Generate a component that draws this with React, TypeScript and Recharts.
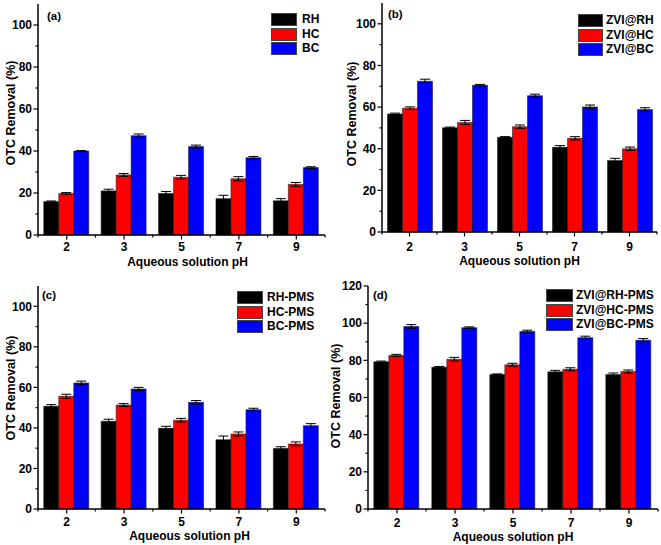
import React from 'react';
import { BarChart, Bar, XAxis, YAxis, ErrorBar, Legend } from 'recharts';

// ---------- data ----------
const categories = ['2', '3', '5', '7', '9'];

// (a)
const aNames = ['RH', 'HC', 'BC'];
const aRH = [15.9, 21.0, 19.8, 17.3, 16.3];
const aHC = [19.8, 28.6, 27.5, 26.8, 24.1];
const aBC = [40.0, 47.3, 42.1, 36.8, 32.1];
const aRHErr = [0.3, 0.8, 0.9, 1.6, 1.0];
const aHCErr = [0.4, 0.7, 0.9, 1.0, 0.9];
const aBCErr = [0.2, 0.8, 0.7, 0.6, 0.4];

// (b)
const bNames = ['ZVI@RH', 'ZVI@HC', 'ZVI@BC'];
const bRH = [56.7, 50.1, 45.5, 40.7, 34.4];
const bHC = [59.5, 52.6, 50.6, 45.0, 40.0];
const bBC = [72.4, 70.5, 65.5, 60.1, 58.9];
const bRHErr = [0.4, 0.3, 0.3, 0.8, 1.0];
const bHCErr = [0.6, 1.0, 0.8, 0.8, 0.8];
const bBCErr = [1.0, 0.4, 0.7, 0.9, 0.8];

// (c)
const cNames = ['RH-PMS', 'HC-PMS', 'BC-PMS'];
const cRH = [50.7, 43.3, 39.8, 34.2, 29.9];
const cHC = [55.6, 51.3, 43.8, 37.0, 32.1];
const cBC = [62.2, 59.2, 52.6, 49.0, 41.1];
const cRHErr = [0.8, 1.0, 1.0, 1.8, 0.8];
const cHCErr = [1.0, 0.7, 0.9, 1.0, 1.0];
const cBCErr = [0.9, 0.8, 0.9, 0.7, 1.0];

// (d)
const dNames = ['ZVI@RH-PMS', 'ZVI@HC-PMS', 'ZVI@BC-PMS'];
const dRH = [79.2, 76.3, 72.4, 73.8, 72.4];
const dHC = [82.6, 80.6, 77.6, 75.2, 74.0];
const dBC = [98.2, 97.6, 95.5, 92.2, 90.8];
const dRHErr = [0.4, 0.4, 0.3, 0.8, 0.8];
const dHCErr = [0.6, 1.0, 0.8, 0.8, 0.8];
const dBCErr = [1.0, 0.4, 0.7, 0.8, 0.9];

const yTicks110 = [0, 10, 20, 30, 40, 50, 60, 70, 80, 90, 100];
const yTicks120 = [0, 10, 20, 30, 40, 50, 60, 70, 80, 90, 100, 110, 120];

const colors = ['#000000', '#ff0000', '#0000ff'];
const FONT = '"Liberation Sans", Arial, Helvetica, sans-serif';

type PanelCfg = {
  left: number; top: number; width: number; height: number;
  pl: number; pr: number; pt: number; pb: number;
  yMax: number; yTicks: number[];
  names: string[]; values: number[][]; errors: number[][];
  tag: string; tagX: number; tagY: number;
  legX: number; legY: number; swW: number; txtGap: number;
  digitsY: number; titleY: number; titleDX: number;
  yLabX: number; yLabY: number;
};

const panels: PanelCfg[] = [
  {
    left: 0, top: 0, width: 330, height: 270, pl: 38, pr: 325, pt: 4, pb: 235,
    yMax: 110, yTicks: yTicks110, names: aNames, values: [aRH, aHC, aBC], errors: [aRHErr, aHCErr, aBCErr],
    tag: '(a)', tagX: 47, tagY: 16, legX: 271, legY: 12.5, swW: 26, txtGap: 5,
    digitsY: 247, titleY: 262, titleDX: 6, yLabX: 10, yLabY: 113,
  },
  {
    left: 330, top: 0, width: 331, height: 270, pl: 382, pr: 657, pt: 3, pb: 232,
    yMax: 110, yTicks: yTicks110, names: bNames, values: [bRH, bHC, bBC], errors: [bRHErr, bHCErr, bBCErr],
    tag: '(b)', tagX: 388, tagY: 14, legX: 578, legY: 13.5, swW: 25, txtGap: 3,
    digitsY: 247, titleY: 261, titleDX: 0, yLabX: 351, yLabY: 114,
  },
  {
    left: 0, top: 270, width: 330, height: 275, pl: 38, pr: 325, pt: 286, pb: 509,
    yMax: 110, yTicks: yTicks110, names: cNames, values: [cRH, cHC, cBC], errors: [cRHErr, cHCErr, cBCErr],
    tag: '(c)', tagX: 42, tagY: 295, legX: 237, legY: 290.5, swW: 26, txtGap: 4,
    digitsY: 522, titleY: 536, titleDX: 8, yLabX: 10, yLabY: 388,
  },
  {
    left: 330, top: 270, width: 331, height: 275, pl: 368, pr: 658, pt: 286, pb: 509,
    yMax: 120, yTicks: yTicks120, names: dNames, values: [dRH, dHC, dBC], errors: [dRHErr, dHCErr, dBCErr],
    tag: '(d)', tagX: 373, tagY: 295, legX: 546, legY: 288.5, swW: 27, txtGap: 3,
    digitsY: 523, titleY: 537, titleDX: 0, yLabX: 335, yLabY: 396,
  },
];

function Panel({ p }: { p: PanelCfg }) {
  const data = categories.map((ph, i) => ({
    ph,
    s0: p.values[0][i], s1: p.values[1][i], s2: p.values[2][i],
    e0: p.errors[0][i], e1: p.errors[1][i], e2: p.errors[2][i],
  }));
  // local (chart svg) coordinates
  const L = p.pl - p.left;
  const R = p.pr - p.left;
  const T = p.pt - p.top;
  const B = p.pb - p.top;
  const band = (R - L) / categories.length;

  const YTick = (props: any) => {
    const { y, payload } = props;
    const v = payload.value;
    const major = v % 20 === 0;
    return (
      <g>
        <line x1={L - (major ? 4.5 : 2.5)} x2={L} y1={y} y2={y} stroke="#000" strokeWidth={1.2} />
        {major && (
          <text x={L - 6} y={y} dy="0.36em" textAnchor="end" fontSize={12} fontWeight="bold" fill="#000" fontFamily={FONT}>
            {v}
          </text>
        )}
      </g>
    );
  };

  const XTick = (props: any) => {
    const { x, payload, index } = props;
    return (
      <g>
        <line x1={x} x2={x} y1={B} y2={B + 4.5} stroke="#000" strokeWidth={1.2} />
        <line x1={x - band / 2} x2={x - band / 2} y1={B} y2={B + 2.5} stroke="#000" strokeWidth={1.2} />
        {index === categories.length - 1 && (
          <line x1={x + band / 2} x2={x + band / 2} y1={B} y2={B + 2.5} stroke="#000" strokeWidth={1.2} />
        )}
        <text x={x} y={p.digitsY - p.top} dy="0.36em" textAnchor="middle" fontSize={12} fontWeight="bold" fill="#000" fontFamily={FONT}>
          {payload.value}
        </text>
      </g>
    );
  };

  const xTitle = () => (
    <text x={(L + R) / 2 + p.titleDX} y={p.titleY - p.top} dy="0.36em" textAnchor="middle" fontSize={12} fontWeight="bold" fill="#000" fontFamily={FONT}>
      Aqueous solution pH
    </text>
  );
  const yTitle = () => {
    const x = p.yLabX - p.left;
    const y = p.yLabY - p.top;
    return (
      <text x={x} y={y} dy="0.36em" textAnchor="middle" transform={`rotate(-90 ${x} ${y})`} fontSize={12.5} fontWeight="bold" fill="#000" fontFamily={FONT}>
        OTC Removal (%)
      </text>
    );
  };

  const legendContent = () => (
    <div style={{ fontFamily: FONT }}>
      {p.names.map((n, i) => (
        <div key={n} style={{ display: 'flex', alignItems: 'center', height: 14.5 }}>
          <div style={{ width: p.swW, height: 13, background: colors[i], border: '0.5px solid #444', boxSizing: 'border-box' }} />
          <span style={{ marginLeft: p.txtGap, fontSize: 12, fontWeight: 'bold', color: '#000', lineHeight: '13px', whiteSpace: 'nowrap' }}>{n}</span>
        </div>
      ))}
    </div>
  );

  return (
    <div style={{ position: 'absolute', left: p.left, top: p.top, width: p.width, height: p.height }}>
      <BarChart
        width={p.width}
        height={p.height}
        data={data}
        margin={{ top: T, right: p.width - R, bottom: 0, left: 0 }}
        barCategoryGap="10%"
        barGap={0}
      >
        <XAxis
          dataKey="ph"
          interval={0}
          height={p.height - B}
          tick={<XTick />}
          tickLine={false}
          axisLine={{ stroke: '#000', strokeWidth: 1.5 }}
          label={xTitle}
        />
        <XAxis xAxisId="top" orientation="top" dataKey="ph" height={0} tick={false} tickLine={false} axisLine={{ stroke: '#000', strokeWidth: 1.5 }} />
        <YAxis
          width={L}
          domain={[0, p.yMax]}
          ticks={p.yTicks}
          interval={0}
          tick={<YTick />}
          tickLine={false}
          axisLine={{ stroke: '#000', strokeWidth: 1.5 }}
          label={yTitle}
        />
        <YAxis yAxisId="right" orientation="right" width={0} domain={[0, p.yMax]} tick={false} tickLine={false} axisLine={{ stroke: '#000', strokeWidth: 1.5 }} />
        <Legend
          layout="vertical"
          align="center"
          verticalAlign="middle"
          content={legendContent}
          wrapperStyle={{ left: p.legX - p.left, top: p.legY - p.top, width: 120, height: 45 }}
        />
        {[0, 1, 2].map((k) => (
          <Bar key={k} dataKey={`s${k}`} name={p.names[k]} fill={colors[k]} stroke="#111" strokeWidth={0.5} isAnimationActive={false}>
            <ErrorBar dataKey={`e${k}`} width={5} stroke="#000" strokeWidth={1} direction="y" />
          </Bar>
        ))}
      </BarChart>
      <div
        style={{
          position: 'absolute', left: p.tagX - p.left, top: p.tagY - p.top - 7, fontFamily: FONT,
          fontSize: 11.5, fontWeight: 'bold', lineHeight: '14px', color: '#000',
        }}
      >
        {p.tag}
      </div>
    </div>
  );
}

export default function App() {
  return (
    <div style={{ position: 'absolute', left: 0, top: 0, width: 661, height: 545, background: '#fff', fontFamily: FONT }}>
      {panels.map((p) => (
        <Panel key={p.tag} p={p} />
      ))}
    </div>
  );
}
